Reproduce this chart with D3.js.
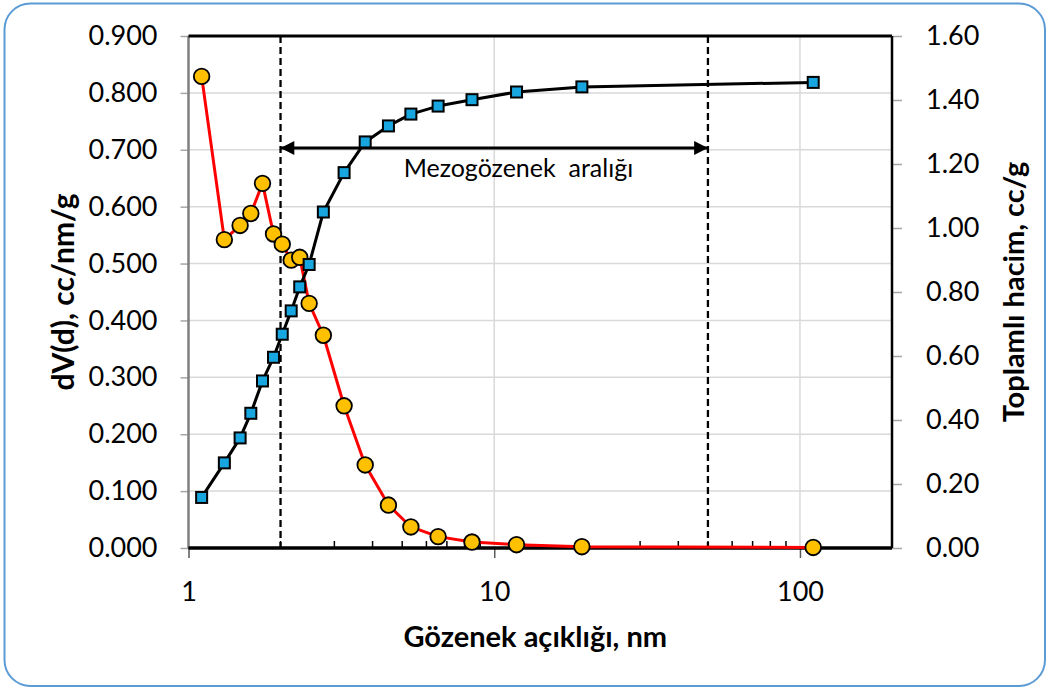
<!DOCTYPE html>
<html>
<head>
<meta charset="utf-8">
<script src="https://cdn.jsdelivr.net/npm/d3@7"></script>
<style>
  body { margin: 0; background: #fff; }
  svg { display: block; font-family: Lato, 'Open Sans', sans-serif; }
</style>
</head>
<body>
<svg width="1049" height="689"></svg>
<script>
// pore width (nm), shared by both series
var poreSize = [1.104, 1.310, 1.475, 1.599, 1.746, 1.897, 2.026, 2.167, 2.311, 2.481,
  2.761, 3.228, 3.784, 4.508, 5.338, 6.553, 8.458, 11.83, 19.35, 110.5];
// dV(d), cc/nm/g  (left axis)
var dVd = [0.829, 0.542, 0.567, 0.588, 0.641, 0.552, 0.534, 0.506, 0.511, 0.430,
  0.374, 0.250, 0.146, 0.0755, 0.037, 0.020, 0.0105, 0.0058, 0.0023, 0.0010];
// cumulative pore volume, cc/g  (right axis)
var cumVol = [0.158, 0.266, 0.344, 0.421, 0.522, 0.596, 0.668, 0.741, 0.816, 0.886,
  1.050, 1.173, 1.269, 1.319, 1.356, 1.381, 1.401, 1.425, 1.441, 1.455];

var leftTicks = [0, 0.1, 0.2, 0.3, 0.4, 0.5, 0.6, 0.7, 0.8, 0.9];
var rightTicks = [0, 0.2, 0.4, 0.6, 0.8, 1.0, 1.2, 1.4, 1.6];
var xTicks = [1, 10, 100];
var xMinorTicks = [2, 3, 4, 5, 6, 7, 8, 9, 20, 30, 40, 50, 60, 70, 80, 90];

// mesopore range annotation
var mesoRange = [2, 50];
var mesoArrowLevel = 1.25;   // right-axis value
var mesoLabel = 'Mezogözenek  aralığı';
var mesoLabelAt = [12, 1.16]; // [pore size, right-axis value]

var svg = d3.select('svg'),
  W = +svg.attr('width'),
  H = +svg.attr('height'),
  margin = {top: 36, right: 157, bottom: 141, left: 188.5},
  width = W - margin.left - margin.right,
  height = H - margin.top - margin.bottom;

// outer rounded frame
svg.append('rect')
  .attr('x', 4.5).attr('y', 3.5)
  .attr('width', W - 8.5).attr('height', H - 6.5)
  .attr('rx', 26).attr('ry', 26)
  .attr('fill', '#fff')
  .attr('stroke', '#5b9bd5')
  .attr('stroke-width', 2);

var g = svg.append('g')
  .attr('transform', 'translate(' + margin.left + ',' + margin.top + ')');

var x = d3.scaleLog().domain([1, 200]).range([0, width]);
var yL = d3.scaleLinear().domain([0, 0.9]).range([height, 0]);
var yR = d3.scaleLinear().domain([0, 1.6]).range([height, 0]);

// gridlines
g.append('g').selectAll('line')
  .data(leftTicks.slice(1))
  .enter().append('line')
  .attr('x1', 0).attr('x2', width)
  .attr('y1', function(d) { return yL(d); })
  .attr('y2', function(d) { return yL(d); })
  .attr('stroke', '#d9d9d9').attr('stroke-width', 1.5);

g.append('g').selectAll('line')
  .data(xTicks.slice(1))
  .enter().append('line')
  .attr('x1', function(d) { return x(d); })
  .attr('x2', function(d) { return x(d); })
  .attr('y1', 0).attr('y2', height)
  .attr('stroke', '#d9d9d9').attr('stroke-width', 1.5);

// left axis
var leftAxis = g.append('g')
  .call(d3.axisLeft(yL).tickValues(leftTicks).tickFormat(d3.format('.3f'))
    .tickSize(8).tickPadding(23));
leftAxis.select('.domain').remove();
leftAxis.selectAll('line').attr('stroke', '#a6a6a6').attr('stroke-width', 1.5);
leftAxis.selectAll('text').attr('font-size', 27).attr('fill', '#000')
  .attr('font-family', 'Lato, sans-serif');

// right axis
var rightAxis = g.append('g')
  .attr('transform', 'translate(' + width + ',0)')
  .call(d3.axisRight(yR).tickValues(rightTicks).tickFormat(d3.format('.2f'))
    .tickSize(10).tickPadding(24));
rightAxis.select('.domain').remove();
rightAxis.selectAll('line').attr('stroke', '#a6a6a6').attr('stroke-width', 1.5);
rightAxis.selectAll('text').attr('font-size', 27).attr('fill', '#000')
  .attr('font-family', 'Lato, sans-serif');

// bottom axis (major ticks outside, minor ticks inside)
var bottomAxis = g.append('g')
  .attr('transform', 'translate(0,' + height + ')')
  .call(d3.axisBottom(x).tickValues(xTicks).tickFormat(d3.format('d'))
    .tickSize(10).tickPadding(24));
bottomAxis.select('.domain').remove();
bottomAxis.selectAll('line').attr('stroke', '#595959').attr('stroke-width', 1.5);
bottomAxis.selectAll('text').attr('font-size', 27).attr('fill', '#000')
  .attr('font-family', 'Lato, sans-serif');

g.append('g').selectAll('line')
  .data(xMinorTicks)
  .enter().append('line')
  .attr('x1', function(d) { return x(d); })
  .attr('x2', function(d) { return x(d); })
  .attr('y1', height).attr('y2', height - 7)
  .attr('stroke', '#000').attr('stroke-width', 1.5);

// frame lines
g.append('line').attr('x1', 0).attr('x2', 0).attr('y1', 0).attr('y2', height)
  .attr('stroke', '#7f7f7f').attr('stroke-width', 2.5);
g.append('line').attr('x1', width).attr('x2', width).attr('y1', 0).attr('y2', height)
  .attr('stroke', '#000').attr('stroke-width', 2.5);
g.append('line').attr('x1', 0).attr('x2', width).attr('y1', 0).attr('y2', 0)
  .attr('stroke', '#000').attr('stroke-width', 3);
g.append('line').attr('x1', 0).attr('x2', width).attr('y1', height).attr('y2', height)
  .attr('stroke', '#000').attr('stroke-width', 3.5);

// dashed range lines
g.append('g').selectAll('line')
  .data(mesoRange)
  .enter().append('line')
  .attr('x1', function(d) { return x(d); })
  .attr('x2', function(d) { return x(d); })
  .attr('y1', 0).attr('y2', height)
  .attr('stroke', '#000').attr('stroke-width', 2.3)
  .attr('stroke-dasharray', '7,4');

// double arrow
var defs = svg.append('defs');
defs.append('marker')
  .attr('id', 'arrowEnd')
  .attr('viewBox', '0 0 10 10')
  .attr('refX', 10).attr('refY', 5)
  .attr('markerWidth', 5.3).attr('markerHeight', 4.6)
  .attr('markerUnits', 'strokeWidth')
  .attr('orient', 'auto-start-reverse')
  .append('path')
  .attr('d', 'M0,0L10,5L0,10Z')
  .attr('fill', '#000');

g.append('line')
  .attr('x1', x(mesoRange[0])).attr('x2', x(mesoRange[1]))
  .attr('y1', yR(mesoArrowLevel)).attr('y2', yR(mesoArrowLevel))
  .attr('stroke', '#000').attr('stroke-width', 3)
  .attr('marker-start', 'url(#arrowEnd)')
  .attr('marker-end', 'url(#arrowEnd)');

g.append('text')
  .attr('x', x(mesoLabelAt[0]))
  .attr('y', yR(mesoLabelAt[1]))
  .attr('text-anchor', 'middle')
  .style('white-space', 'pre')
  .attr('font-size', 25)
  .attr('fill', '#000')
  .text(mesoLabel);

// series
var rows = poreSize.map(function(d, i) {
  return {size: d, dv: dVd[i], cum: cumVol[i]};
});

var dvLine = d3.line()
  .x(function(d) { return x(d.size); })
  .y(function(d) { return yL(d.dv); });

var cumLine = d3.line()
  .x(function(d) { return x(d.size); })
  .y(function(d) { return yR(d.cum); });

g.append('path').datum(rows)
  .attr('d', dvLine)
  .attr('fill', 'none').attr('stroke', '#ff0000').attr('stroke-width', 3)
  .attr('stroke-linejoin', 'round');

g.append('g').selectAll('circle')
  .data(rows)
  .enter().append('circle')
  .attr('cx', function(d) { return x(d.size); })
  .attr('cy', function(d) { return yL(d.dv); })
  .attr('r', 7.8)
  .attr('fill', '#ffc000')
  .attr('stroke', '#000').attr('stroke-width', 1.8);

g.append('path').datum(rows)
  .attr('d', cumLine)
  .attr('fill', 'none').attr('stroke', '#000').attr('stroke-width', 3)
  .attr('stroke-linejoin', 'round');

var sq = 11;
g.append('g').selectAll('rect')
  .data(rows)
  .enter().append('rect')
  .attr('x', function(d) { return x(d.size) - sq / 2; })
  .attr('y', function(d) { return yR(d.cum) - sq / 2; })
  .attr('width', sq).attr('height', sq)
  .attr('fill', '#17a6df')
  .attr('stroke', '#000').attr('stroke-width', 2);

// axis titles
svg.append('text')
  .attr('transform', 'translate(74,' + (margin.top + height / 2) + ') rotate(-90)')
  .attr('text-anchor', 'middle')
  .attr('font-size', 30).attr('font-weight', 'bold')
  .text('dV(d), cc/nm/g');

svg.append('text')
  .attr('transform', 'translate(1024,' + (margin.top + height / 2) + ') rotate(-90)')
  .attr('text-anchor', 'middle')
  .attr('font-size', 29).attr('font-weight', 'bold')
  .text('Toplamlı hacim, cc/g');

svg.append('text')
  .attr('x', margin.left + (x(200) + x(1)) / 2 - 5)
  .attr('y', 647)
  .attr('text-anchor', 'middle')
  .attr('font-size', 29).attr('font-weight', 'bold')
  .text('Gözenek açıklığı, nm');
</script>
</body>
</html>
